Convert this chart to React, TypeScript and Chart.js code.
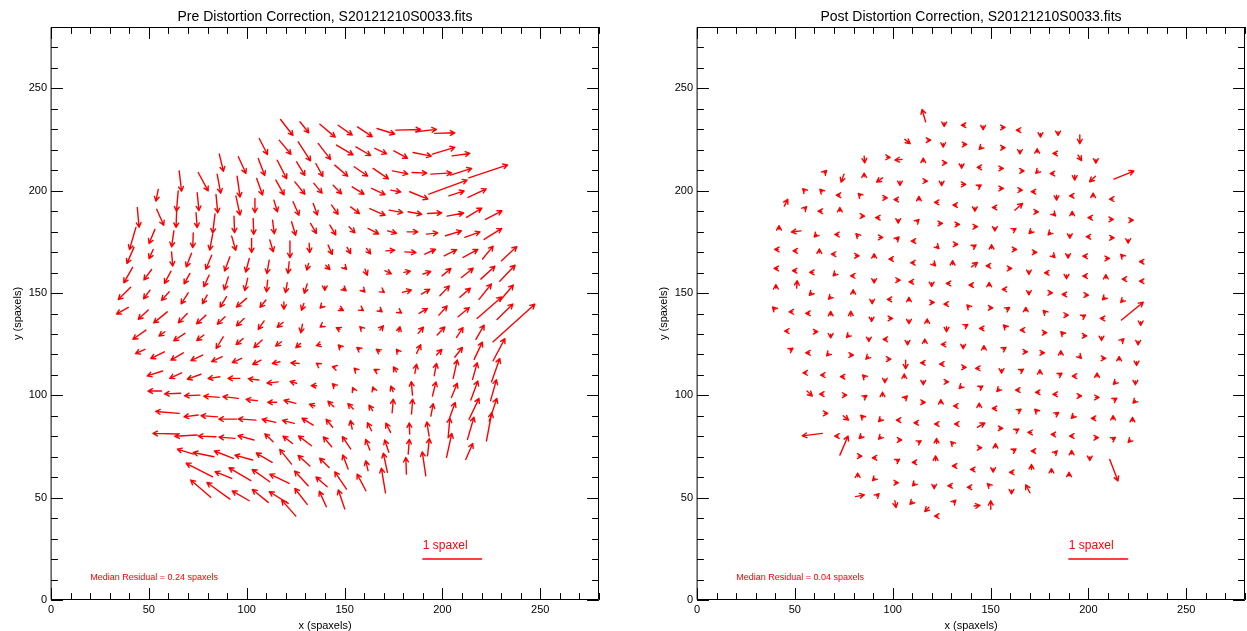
import React, { useEffect, useRef } from "react";
import { Chart, registerables } from "chart.js";

Chart.register(...registerables);

const FONT = "'Liberation Sans', Arial, Helvetica, sans-serif";
const RED = "#ff0000";

const AXIS_MIN = 0;
const AXIS_MAX = 280;
const MAJOR_STEP = 50;
const MINOR_STEP = 10;
const ARROW_SCALE = 30; // data units drawn per spaxel of residual
const SCALE_BAR_X = [190, 220];
const SCALE_BAR_Y = 20;
const SCALE_BAR_LABEL = "1 spaxel";
const RESIDUAL_POS = [20, 11];

const PRE_TITLE = "Pre Distortion Correction, S20121210S0033.fits";
const POST_TITLE = "Post Distortion Correction, S20121210S0033.fits";
const PRE_RESIDUAL = "Median Residual = 0.24 spaxels";
const POST_RESIDUAL = "Median Residual = 0.04 spaxels";
const X_LABEL = "x (spaxels)";
const Y_LABEL = "y (spaxels)";

type Arrow = [number, number, number, number]; // x, y, dx (spaxel), dy (spaxel)

const PRE_ARROWS: Arrow[] = [
  [117.3,234.8,0.21,-0.26],[127.2,233.7,0.15,-0.18],[137.4,232.5,0.26,-0.21],[146.7,232.0,0.24,-0.16],[156.6,231.2,0.25,-0.16],[166.6,230.4,0.30,-0.09],[176.2,229.6,0.42,0.01],[186.4,228.8,0.35,0.04],[196.1,228.0,0.34,0.01],
  [106.4,225.5,0.14,-0.26],[116.6,224.7,0.20,-0.23],[126.3,223.9,0.21,-0.31],[136.5,223.1,0.21,-0.26],[145.9,222.3,0.28,-0.16],[155.8,221.4,0.25,-0.14],[165.5,220.7,0.20,-0.09],[175.2,219.5,0.23,-0.12],[185.0,218.7,0.31,-0.06],[194.9,217.9,0.38,0.11],[205.0,217.0,0.30,0.04],
  [86.0,217.9,0.07,-0.28],[95.7,216.6,0.13,-0.27],[105.9,215.8,0.11,-0.28],[115.6,214.9,0.16,-0.30],[125.5,214.1,0.14,-0.22],[135.3,213.3,0.12,-0.21],[145.0,212.5,0.22,-0.18],[154.9,211.7,0.23,-0.15],[164.6,210.9,0.26,-0.17],[174.5,209.7,0.26,-0.05],[184.5,208.9,0.25,-0.01],[194.1,208.1,0.35,0.02],[204.1,207.6,0.36,0.11],[213.5,206.3,0.66,0.21],
  [65.5,209.7,0.04,-0.33],[75.2,208.9,0.17,-0.30],[84.9,208.1,0.06,-0.31],[95.1,207.1,0.05,-0.34],[105.1,206.0,0.10,-0.27],[114.9,205.2,0.14,-0.24],[124.6,204.3,0.17,-0.20],[134.3,203.6,0.14,-0.16],[144.2,202.7,0.14,-0.14],[153.9,201.9,0.20,-0.12],[163.8,201.1,0.23,-0.10],[173.6,200.3,0.17,-0.03],[183.3,199.5,0.31,-0.12],[193.1,198.3,0.65,0.23],[203.3,197.5,0.26,0.08],[213.1,196.7,0.31,0.14],
  [54.8,200.6,-0.04,-0.19],[65.0,199.9,-0.03,-0.33],[74.7,199.0,0.03,-0.29],[84.3,198.2,0.03,-0.30],[94.5,197.4,0.07,-0.31],[104.2,196.2,0.0,-0.23],[113.9,195.4,0.06,-0.19],[123.7,194.6,0.10,-0.22],[134.0,193.8,0.07,-0.19],[143.4,193.0,0.11,-0.15],[153.1,192.1,0.15,-0.11],[162.9,191.3,0.26,-0.11],[172.8,190.5,0.23,-0.04],[182.5,189.7,0.23,-0.04],[192.4,188.9,0.24,0.01],[202.4,187.6,0.28,0.05],[212.3,187.0,0.26,0.15],[222.0,186.0,0.28,0.14],
  [44.1,191.8,0.03,-0.32],[54.0,190.9,0.12,-0.26],[64.2,190.2,-0.01,-0.27],[74.1,189.2,0.02,-0.24],[83.8,188.6,-0.04,-0.31],[93.5,187.6,0.01,-0.27],[103.3,186.5,0.01,-0.26],[113.2,185.6,0.03,-0.22],[122.9,184.8,0.07,-0.22],[132.6,184.0,0.10,-0.16],[142.5,183.2,0.10,-0.16],[152.3,182.4,0.10,-0.10],[162.0,181.6,0.18,-0.09],[172.0,180.4,0.15,-0.04],[182.0,179.9,0.18,0.0],[191.9,178.8,0.19,0.02],[201.6,178.0,0.27,0.08],[211.4,177.2,0.26,0.09],[221.3,176.2,0.30,0.18],
  [43.4,182.1,-0.11,-0.36],[53.1,181.1,-0.10,-0.23],[62.8,180.4,-0.04,-0.26],[72.7,179.4,-0.01,-0.24],[82.6,178.8,-0.05,-0.26],[92.3,177.8,0.07,-0.23],[102.5,176.7,0.0,-0.23],[111.8,175.9,0.06,-0.19],[122.1,175.4,0.0,-0.27],[131.9,174.3,0.01,-0.15],[141.6,173.4,0.07,-0.15],[151.3,172.3,0.06,-0.10],[161.2,171.8,0.07,-0.09],[171.1,170.6,0.15,0.01],[180.8,170.1,0.19,-0.01],[191.0,169.0,0.18,0.08],[200.9,168.2,0.21,0.10],[210.6,167.4,0.25,0.13],[220.5,166.6,0.18,0.21],[230.2,165.8,0.26,0.23],
  [42.4,172.3,-0.12,-0.26],[52.2,171.3,-0.07,-0.15],[61.6,170.1,0.02,-0.23],[71.8,169.4,-0.09,-0.22],[82.1,168.5,-0.10,-0.23],[91.4,167.7,-0.09,-0.23],[101.3,166.9,-0.06,-0.22],[111.5,166.1,-0.04,-0.22],[121.7,165.3,-0.02,-0.19],[131.6,164.5,-0.03,-0.11],[140.4,163.6,0.07,-0.07],[150.1,162.5,0.03,-0.03],[160.4,161.7,0.04,-0.10],[170.6,160.9,0.11,-0.05],[180.3,160.1,0.11,0.02],[190.1,159.3,0.13,0.04],[199.8,158.4,0.15,0.12],[209.7,157.6,0.20,0.15],[219.6,156.8,0.24,0.21],[229.3,155.8,0.26,0.26],
  [41.7,162.5,-0.15,-0.25],[51.4,161.5,-0.13,-0.17],[61.3,160.7,-0.11,-0.20],[71.0,159.6,-0.10,-0.17],[80.8,158.8,-0.09,-0.19],[90.6,157.9,-0.07,-0.21],[100.5,157.2,-0.05,-0.20],[110.7,156.3,-0.02,-0.19],[120.7,155.0,-0.03,-0.16],[130.9,154.4,-0.05,-0.15],[139.9,153.4,0.0,-0.07],[149.3,152.3,0.05,-0.04],[159.5,151.4,0.03,-0.03],[169.4,150.9,0.03,-0.02],[179.6,150.3,0.15,0.04],[189.3,149.5,0.14,0.08],[198.7,148.7,0.16,0.16],[208.9,147.9,0.18,0.15],[218.7,146.9,0.21,0.25],[229.3,146.1,0.23,0.26],
  [40.7,152.8,-0.21,-0.20],[50.6,151.4,-0.11,-0.14],[60.4,150.6,-0.13,-0.14],[70.1,150.1,-0.12,-0.18],[79.8,149.0,-0.08,-0.14],[89.7,148.2,-0.11,-0.17],[99.9,147.4,-0.17,-0.14],[109.8,146.6,-0.10,-0.12],[119.0,145.7,0.0,-0.12],[129.2,144.9,-0.04,-0.11],[138.4,143.6,-0.03,-0.03],[147.6,142.4,0.06,-0.03],[158.7,142.0,0.03,-0.02],[168.0,141.7,0.04,-0.03],[178.2,140.8,0.03,-0.02],[188.1,140.1,0.14,0.08],[198.2,139.2,0.14,0.15],[208.0,138.4,0.19,0.15],[217.7,137.6,0.42,0.35],[227.9,137.1,0.27,0.25],
  [39.5,143.0,-0.20,-0.11],[49.7,141.7,-0.17,-0.15],[59.4,140.8,-0.23,-0.18],[69.6,140.0,-0.15,-0.15],[79.2,139.2,-0.16,-0.14],[88.9,138.4,-0.13,-0.12],[98.7,137.6,-0.13,-0.12],[108.9,136.4,-0.10,-0.14],[118.6,135.7,-0.10,-0.08],[128.5,134.8,-0.03,-0.14],[138.4,134.0,-0.03,-0.02],[147.6,132.2,-0.06,0.03],[158.7,132.7,-0.03,0.03],[168.0,131.9,0.06,0.07],[177.7,131.1,0.02,0.08],[187.6,130.3,0.09,0.10],[197.3,129.5,0.13,0.13],[207.2,128.3,0.11,0.16],[217.1,127.4,0.14,0.23],[225.9,126.2,0.71,0.61],
  [48.5,131.9,-0.22,-0.15],[58.2,131.1,-0.10,-0.07],[68.4,130.3,-0.19,-0.12],[78.1,129.5,-0.12,-0.09],[88.0,128.6,-0.12,-0.19],[98.2,127.8,-0.12,-0.10],[107.9,127.0,-0.14,-0.12],[117.8,126.2,-0.10,-0.07],[127.5,125.4,-0.08,-0.07],[137.7,124.9,-0.07,-0.02],[148.0,123.4,-0.04,0.04],[157.5,122.5,-0.04,0.03],[168.0,121.3,-0.06,0.04],[177.4,121.3,-0.03,0.04],[186.8,120.5,0.07,0.14],[197.0,119.7,0.09,0.09],[206.3,118.6,0.13,0.16],[216.2,117.6,0.14,0.28],[225.9,116.9,0.20,0.36],
  [48.0,122.5,-0.16,-0.07],[57.9,121.3,-0.23,-0.11],[67.6,120.8,-0.21,-0.12],[77.5,119.7,-0.20,-0.09],[87.5,118.9,-0.18,-0.08],[97.4,118.1,-0.16,-0.07],[107.3,117.2,-0.14,-0.07],[117.0,116.4,-0.13,-0.03],[126.8,115.6,-0.14,0.01],[136.5,115.1,-0.03,0.02],[145.0,113.7,-0.04,0.01],[155.8,112.4,-0.03,0.03],[166.3,112.0,-0.04,0.02],[176.5,111.5,-0.05,0.08],[185.9,110.7,0.03,0.15],[195.8,109.6,0.04,0.20],[205.5,108.3,0.07,0.30],[215.4,107.8,0.08,0.27],[225.1,106.6,0.14,0.38],
  [57.0,111.9,-0.26,-0.08],[66.7,111.0,-0.20,-0.09],[76.6,110.3,-0.23,-0.08],[86.3,109.1,-0.20,-0.03],[96.5,108.3,-0.20,0.0],[106.2,107.5,-0.18,0.02],[116.1,106.6,-0.19,-0.02],[125.5,105.9,-0.11,0.03],[135.7,104.7,-0.09,0.0],[145.0,104.5,-0.04,0.04],[154.7,102.6,-0.02,0.04],[165.0,102.6,-0.02,0.05],[174.8,101.8,-0.04,0.09],[184.7,100.1,-0.02,0.22],[194.9,99.7,0.06,0.23],[204.6,99.0,0.10,0.23],[214.5,97.7,0.12,0.31],[224.6,97.4,0.10,0.34],
  [56.5,102.1,-0.23,0.0],[66.2,101.0,-0.27,-0.01],[76.1,100.1,-0.26,-0.01],[85.9,99.0,-0.26,0.02],[95.7,98.5,-0.26,0.03],[105.4,97.4,-0.19,0.02],[115.3,96.6,-0.15,0.0],[125.1,96.1,-0.20,0.05],[134.8,94.8,-0.09,0.03],[144.5,94.4,-0.10,0.09],[154.4,93.3,-0.09,0.09],[164.3,92.5,-0.06,0.09],[174.3,91.5,0.02,0.22],[184.2,90.9,0.02,0.24],[194.1,89.9,0.04,0.20],[203.8,89.3,0.09,0.24],[213.6,88.3,0.17,0.34],[223.9,87.4,0.13,0.37],
  [65.5,91.2,-0.40,0.03],[75.2,90.4,-0.24,-0.03],[85.1,89.5,-0.28,0.02],[94.8,88.4,-0.30,0.0],[104.7,87.9,-0.30,0.02],[114.8,86.8,-0.23,0.05],[124.3,86.3,-0.20,0.05],[134.0,85.5,-0.19,0.11],[143.9,84.4,-0.11,0.13],[153.9,83.5,-0.03,0.14],[163.8,82.7,-0.07,0.13],[173.5,81.9,-0.08,0.15],[183.3,81.1,-0.01,0.18],[193.2,80.1,-0.04,0.23],[202.9,79.3,0.03,0.32],[212.8,78.5,0.11,0.36],[222.5,77.7,0.09,0.46],
  [65.0,81.1,-0.43,0.01],[74.7,80.6,-0.38,-0.02],[84.3,79.8,-0.30,0.01],[94.0,79.0,-0.27,0.02],[103.7,78.2,-0.27,0.07],[113.5,77.3,-0.14,0.13],[123.4,76.5,-0.16,0.12],[133.1,75.4,-0.22,0.16],[143.4,74.9,-0.14,0.16],[153.1,73.8,-0.14,0.20],[162.9,73.3,-0.07,0.17],[172.6,72.2,-0.07,0.20],[182.5,71.3,0.02,0.24],[192.4,70.5,0.03,0.28],[202.1,69.7,0.09,0.39],[211.9,68.7,0.12,0.26],
  [72.7,71.3,-0.27,0.08],[83.2,70.0,-0.35,0.07],[93.1,69.2,-0.32,0.12],[103.0,68.4,-0.30,0.08],[113.0,67.3,-0.27,0.15],[122.9,66.4,-0.20,0.24],[132.3,65.5,-0.20,0.17],[142.1,64.8,-0.16,0.15],[151.8,64.0,-0.09,0.23],[162.0,63.2,-0.04,0.16],[171.9,62.4,-0.07,0.31],[181.6,61.5,-0.01,0.27],[191.5,60.7,-0.06,0.39],
  [82.6,60.2,-0.45,0.22],[92.3,59.4,-0.28,0.11],[102.1,58.3,-0.37,0.21],[111.8,57.8,-0.30,0.20],[121.7,57.0,-0.33,0.15],[131.4,55.8,-0.23,0.24],[141.1,55.3,-0.19,0.16],[151.0,54.2,-0.20,0.28],[160.9,53.4,-0.15,0.27],[170.9,52.4,-0.07,0.40],
  [81.6,50.2,-0.34,0.28],[91.4,49.3,-0.39,0.27],[101.3,48.5,-0.29,0.16],[111.0,47.7,-0.27,0.21],[121.2,47.2,-0.32,0.19],[130.9,46.7,-0.21,0.26],[140.7,45.6,-0.12,0.25],[150.1,44.5,-0.11,0.31],
  [125.1,41.0,-0.24,0.26],
];

const POST_ARROWS: Arrow[] = [
  [116.8,233.7,-0.06,0.20],[126.3,233.2,0,-0.06],[136.9,232.0,-0.06,0],[146.2,231.6,0,-0.06],[155.6,230.9,0.06,0],[165.0,229.6,-0.06,0],[175.5,228.0,0,-0.06],[184.5,228.8,0,-0.06],[195.6,227.2,0,-0.14],
  [106.2,225.1,0.09,-0.07],[117.6,224.7,0.06,0],[125.8,223.1,0,-0.06],[136.0,222.6,0.06,0],[145.4,221.4,-0.04,-0.04],[155.6,221.0,0.06,0],[165.0,219.8,0,-0.06],[173.8,218.7,0,0.06],[183.7,218.2,-0.06,0],[194.7,217.4,0.06,-0.09],[203.8,215.3,0,-0.06],
  [85.4,216.9,0.01,-0.11],[96.9,216.3,0.06,0],[104.8,215.3,-0.12,-0.01],[115.6,214.1,0,0.06],[125.8,213.6,0.06,0],[135.2,212.8,0,-0.06],[145.0,211.4,-0.06,0],[154.7,210.9,0.06,0],[165.3,209.7,0.06,0],[174.3,209.7,-0.04,-0.04],[182.3,208.4,-0.06,0],[193.0,207.6,0,-0.08],[203.6,207.1,-0.10,-0.09],[213.0,205.7,0.34,0.13],
  [65.0,208.7,0.04,0.04],[75.1,208.1,-0.05,-0.13],[85.4,206.8,0,0.06],[94.8,206.3,-0.10,-0.07],[103.7,204.7,0,-0.07],[115.9,204.7,0.06,0],[125.0,204.3,0,-0.06],[135.2,203.1,0.07,0],[143.7,201.9,0.05,0.03],[154.7,201.1,0.06,0],[164.4,200.3,0.06,0],[172.6,199.5,-0.06,0],[183.7,197.8,0,-0.08],[192.2,197.5,-0.06,0],[202.4,197.0,0,0.06],[212.6,195.9,-0.06,0],
  [55.2,199.8,-0.04,0.04],[64.0,199.5,-0.04,0.04],[73.0,197.8,-0.06,0],[83.6,197.5,-0.04,0.04],[95.1,196.5,0.07,0],[102.5,195.7,-0.06,0],[113.4,195.4,0,0.06],[123.2,194.3,-0.06,0],[132.6,193.0,-0.06,0],[142.0,191.8,0,-0.06],[152.7,191.8,-0.06,0],[162.4,190.5,0.13,0.11],[172.6,189.7,0.06,0],[182.0,188.9,0.04,-0.04],[191.7,188.1,0,0.06],[201.6,186.8,-0.06,0],[210.9,186.0,0.06,0],[221.1,185.6,0.06,0],
  [44.6,192.5,0.06,0.11],[54.8,191.0,0.04,0.04],[63.7,190.0,-0.06,0],[73.0,190.0,0,0.06],[83.8,187.6,0.06,0],[93.1,186.8,-0.06,0],[102.8,186.0,0,-0.06],[112.2,184.8,0.04,0.04],[123.6,184.0,0.06,0],[132.3,183.5,0.06,0],[141.5,182.4,0.06,0],[152.2,182.1,0,-0.06],[161.5,180.7,0.05,0.03],[170.9,180.3,-0.04,-0.04],[180.6,179.6,-0.04,-0.04],[190.5,178.6,0,-0.06],[200.7,177.5,-0.06,0],[211.3,177.0,0.06,0],[220.3,176.2,0,-0.06],
  [41.9,181.1,0,0.06],[53.1,180.4,-0.16,-0.02],[61.1,178.6,-0.04,-0.04],[72.2,178.6,-0.06,0],[82.4,177.8,-0.04,0.04],[93.1,177.2,0.06,0],[102.0,176.2,0.04,0.04],[111.3,175.4,-0.06,0],[122.4,172.9,0.04,-0.04],[131.4,173.8,0.06,0],[141.1,172.6,0.05,0.03],[150.5,171.8,0,0.06],[161.5,171.3,0.06,0],[171.8,169.9,0.06,0],[181.7,168.5,0.04,-0.04],[189.6,168.9,0,-0.06],[199.0,168.0,-0.06,0],[208.9,166.9,0.06,0],[217.7,167.7,-0.04,0.04],[227.9,165.3,-0.06,0],
  [41.5,171.3,-0.06,0],[50.9,170.6,-0.06,0],[62.5,169.7,0,0.06],[70.5,169.0,-0.06,0],[81.0,168.2,0.06,0],[90.5,167.4,0,0.06],[99.9,166.6,-0.06,0],[111.0,164.8,-0.06,0],[120.7,164.5,0.04,-0.04],[130.6,164.0,0,0.06],[140.3,162.8,0.10,0.07],[149.6,163.3,-0.06,0],[159.0,162.0,0.06,0],[169.6,160.9,0,-0.06],[179.4,159.9,-0.06,0],[188.8,158.8,0,-0.06],[199.0,158.3,-0.06,0],[208.9,157.2,0,0.06],[219.1,156.8,-0.06,0],[227.9,155.8,-0.06,0],
  [41.2,162.0,-0.06,0],[50.6,160.9,-0.06,0],[59.4,160.1,-0.06,0],[70.8,159.6,-0.04,-0.04],[80.3,158.4,-0.06,0],[90.5,156.7,0,-0.06],[102.0,156.3,0.06,0],[110.2,155.5,-0.06,0],[119.9,155.0,0,-0.06],[129.2,154.7,-0.06,0],[140.8,153.9,-0.06,0],[149.3,153.4,0,0.06],[157.8,151.8,-0.06,0],[169.6,150.9,0,-0.06],[179.8,150.1,0.06,0],[188.4,149.3,-0.06,0],[198.2,149.0,0.06,0],[208.4,147.9,-0.04,-0.04],[217.7,146.6,-0.04,-0.04],
  [40.3,152.3,0,0.06],[50.9,152.4,0.01,0.12],[58.6,150.1,-0.04,-0.04],[68.4,148.2,-0.04,-0.04],[79.8,149.8,0,0.06],[89.5,146.6,0,-0.06],[99.1,146.9,-0.06,0],[108.3,146.1,0,0.06],[119.4,145.4,0.06,0],[128.0,144.6,-0.06,0],[139.1,143.0,-0.04,0.04],[149.3,142.8,0.06,0],[158.2,142.0,0.05,0.03],[168.0,141.2,0,0.06],[178.1,140.3,-0.04,0.04],[187.9,139.2,0.06,0],[197.0,138.4,0.05,0.03],[207.9,137.6,-0.06,0],[216.9,136.8,0.37,0.29],[226.7,136.0,0,-0.06],
  [39.8,142.0,-0.04,0.04],[48.9,140.8,-0.06,0],[57.4,140.1,-0.06,0],[68.3,139.2,0,0.06],[78.6,138.7,0,0.08],[89.2,137.9,0,-0.06],[98.1,137.6,0.06,0],[108.3,136.8,0,-0.06],[117.6,135.5,0,0.06],[127.5,133.5,0,-0.08],[136.9,133.8,0.05,0.03],[146.2,132.7,-0.06,0],[157.8,133.2,-0.04,0.04],[167.0,131.9,-0.06,0],[176.9,130.6,0.06,0],[187.1,129.9,-0.04,0.04],[197.3,129.1,0.06,0],[206.7,128.6,0,-0.06],[216.9,126.5,0.04,0.04],[225.4,126.5,0,-0.06],
  [46.6,131.4,-0.06,0],[59.9,131.1,0.06,0],[68.3,129.9,0,-0.06],[77.6,129.5,-0.04,-0.04],[87.8,128.1,0,-0.06],[96.9,127.4,-0.06,0],[107.6,126.5,0,-0.06],[116.4,125.7,0,0.06],[126.7,124.9,-0.06,0],[136.0,124.6,0,-0.06],[146.6,122.5,0,0.06],[156.4,122.5,0.05,0.03],[167.0,121.3,0.06,0],[175.7,120.8,0.06,0],[185.9,120.0,0,0.06],[195.2,119.3,0.04,-0.04],[207.0,118.1,0.06,0],[215.7,117.2,0,0.06],[224.6,116.4,0,-0.06],
  [47.5,122.1,0.05,0.03],[57.4,120.8,-0.06,0],[67.4,120.5,-0.04,-0.04],[78.1,119.7,0.06,0],[87.5,118.9,-0.04,-0.04],[97.2,117.7,0.06,0],[106.6,117.2,0,-0.14],[116.1,115.9,-0.06,0],[125.8,115.3,-0.06,0],[135.7,113.7,0.06,0],[144.2,113.2,-0.06,0],[155.6,112.7,0,-0.06],[165.3,111.9,0.05,0.03],[175.2,110.7,0,0.06],[185.0,109.9,0.05,0.03],[193.6,109.4,-0.06,0],[204.4,109.1,0,0.06],[214.0,106.6,-0.04,-0.04],[224.0,107.0,0,-0.06],
  [56.0,111.0,-0.06,0],[65.0,109.9,-0.06,0],[75.1,109.1,-0.06,0],[85.8,108.8,-0.04,0.04],[96.0,108.0,0,-0.06],[105.9,108.6,0,0.06],[115.6,107.0,0,-0.06],[126.7,106.6,0.06,0],[135.2,104.5,-0.04,-0.04],[144.5,103.7,0.05,0.03],[154.4,103.1,-0.04,-0.04],[164.6,102.6,-0.06,0],[174.8,101.5,-0.06,0],[183.7,100.5,-0.06,0],[194.7,99.7,0.06,0],[203.6,99.0,0.06,0],[213.0,97.7,0.05,0.03],[224.0,97.4,-0.04,-0.04],
  [56.2,102.1,0.09,-0.08],[64.5,100.6,-0.06,0],[74.7,100.1,0.06,0],[85.3,99.0,0.05,0.03],[94.8,99.7,0,0.06],[106.2,98.5,0.04,0.04],[114.8,96.6,0.06,0],[124.6,96.1,0,0.06],[132.9,94.8,-0.06,0],[144.2,94.4,0,0.06],[152.7,93.6,-0.06,0],[164.1,92.3,0.05,0.03],[173.8,92.0,-0.04,0.04],[183.3,90.7,0.05,0.03],[192.5,90.0,-0.04,-0.04],[203.3,88.8,-0.06,0],[212.6,88.3,0,0.06],[222.5,87.4,0,0.06],
  [65.0,91.2,0.06,0],[74.7,90.0,0.09,-0.07],[84.9,89.1,-0.04,0.04],[94.0,88.4,-0.04,-0.04],[103.7,87.9,-0.06,0],[112.7,86.6,-0.06,0],[123.2,86.0,-0.06,0],[133.4,86.0,-0.06,0],[143.2,84.4,0.13,0.07],[154.4,83.9,0.06,0],[162.9,82.7,0.05,0.03],[170.9,81.9,-0.06,0],[182.8,80.9,-0.06,0],[192.2,80.1,-0.06,0],[203.3,79.3,0.06,0],[212.3,78.5,0.05,0.03],[221.5,78.2,-0.04,-0.04],
  [64.0,81.4,-0.34,-0.04],[72.2,80.1,-0.06,0],[84.1,80.1,-0.04,-0.04],[94.0,79.8,-0.04,-0.04],[102.8,78.2,0.06,0],[113.0,77.0,0.05,0.03],[122.4,76.5,0,0.08],[130.9,76.2,-0.04,0.04],[143.7,74.4,0.06,0],[152.5,74.6,0,0.06],[161.5,72.9,0.05,0.03],[172.6,72.8,-0.06,0],[182.8,71.7,0.04,0.04],[191.4,71.3,0,0.06],[200.7,70.0,0,-0.06],[210.9,68.7,0.14,-0.35],
  [73.0,70.8,0.14,0.31],[82.4,70.3,0.06,0],[91.4,69.5,-0.06,0],[102.0,67.9,0.05,0.03],[111.8,67.3,-0.06,0],[121.9,68.0,0,0.08],[132.3,65.5,-0.06,0],[141.6,63.8,-0.06,0],[151.3,64.3,0,-0.06],[161.5,62.4,-0.06,0],[170.9,63.8,0,0.08],[181.1,62.4,0,0.06],[190.1,60.6,0,0.06],
  [82.1,60.2,0,0.06],[90.9,59.5,-0.04,-0.04],[101.1,57.3,0.06,0],[111.3,57.0,-0.04,-0.04],[121.2,56.2,0,-0.06],[130.0,55.8,-0.06,0],[139.9,55.1,-0.06,0],[149.6,55.7,-0.04,0.04],[160.7,53.7,0,-0.06],[170.1,52.4,-0.07,0.13],
  [81.0,50.5,0.15,0.03],[91.8,50.8,0.04,0.04],[101.1,48.5,0.02,-0.11],[110.0,48.0,-0.04,-0.04],[118.5,45.3,-0.07,-0.07],[131.0,47.6,0.04,0.04],[141.6,45.9,0.10,0.01],[150.1,44.3,0,0.14],
  [123.2,41.0,-0.06,0],
];

type PanelProps = {
  left: number;
  width: number;
  padLeft: number;
  padRight: number;
  arrows: Arrow[];
  title: string;
  residual: string;
};

function Panel({ left, width, padLeft, padRight, arrows, title, residual }: PanelProps) {
  const ref = useRef<HTMLCanvasElement | null>(null);

  useEffect(() => {
    if (!ref.current) return;

    const framePlugin = {
      id: "frameAndQuiver",
      afterDatasetsDraw(chart: any) {
        const { ctx, chartArea: ca, scales } = chart;
        const xs = scales.x;
        const ys = scales.y;
        ctx.save();

        // arrows
        ctx.strokeStyle = RED;
        ctx.lineWidth = 1.4;
        ctx.lineCap = "round";
        ctx.lineJoin = "round";
        for (const [ax, ay, u, v] of arrows) {
          const x0 = xs.getPixelForValue(ax);
          const y0 = ys.getPixelForValue(ay);
          const x1 = xs.getPixelForValue(ax + u * ARROW_SCALE);
          const y1 = ys.getPixelForValue(ay + v * ARROW_SCALE);
          const ang = Math.atan2(y1 - y0, x1 - x0);
          const h = 5;
          const sp = 0.5;
          ctx.beginPath();
          ctx.moveTo(x0, y0);
          ctx.lineTo(x1, y1);
          ctx.moveTo(x1 - h * Math.cos(ang - sp), y1 - h * Math.sin(ang - sp));
          ctx.lineTo(x1, y1);
          ctx.lineTo(x1 - h * Math.cos(ang + sp), y1 - h * Math.sin(ang + sp));
          ctx.stroke();
        }

        // scale bar
        ctx.lineWidth = 1.5;
        ctx.beginPath();
        ctx.moveTo(xs.getPixelForValue(SCALE_BAR_X[0]), ys.getPixelForValue(SCALE_BAR_Y));
        ctx.lineTo(xs.getPixelForValue(SCALE_BAR_X[1]), ys.getPixelForValue(SCALE_BAR_Y));
        ctx.stroke();
        ctx.fillStyle = RED;
        ctx.font = `12px ${FONT}`;
        ctx.textAlign = "left";
        ctx.textBaseline = "alphabetic";
        ctx.fillText(SCALE_BAR_LABEL, xs.getPixelForValue(SCALE_BAR_X[0]), ys.getPixelForValue(SCALE_BAR_Y) - 10);
        ctx.font = `9px ${FONT}`;
        ctx.textBaseline = "middle";
        ctx.fillText(residual, xs.getPixelForValue(RESIDUAL_POS[0]), ys.getPixelForValue(RESIDUAL_POS[1]));

        // frame
        ctx.strokeStyle = "#000";
        ctx.lineWidth = 1;
        const L = Math.round(ca.left) + 0.5;
        const R = Math.round(ca.right) - 0.5;
        const T = Math.round(ca.top) + 0.5;
        const B = Math.round(ca.bottom) - 0.5;
        ctx.strokeRect(L, T, R - L, B - T);
        ctx.beginPath();
        for (let val = AXIS_MIN; val <= AXIS_MAX; val += MINOR_STEP) {
          const len = val % MAJOR_STEP === 0 ? 11 : 6;
          const px = Math.round(xs.getPixelForValue(val)) + 0.5;
          const py = Math.round(ys.getPixelForValue(val)) + 0.5;
          ctx.moveTo(px, B); ctx.lineTo(px, B - len);
          ctx.moveTo(px, T); ctx.lineTo(px, T + len);
          ctx.moveTo(L, py); ctx.lineTo(L + len, py);
          ctx.moveTo(R, py); ctx.lineTo(R - len, py);
        }
        ctx.stroke();

        // titles
        ctx.fillStyle = "#000";
        ctx.textAlign = "center";
        ctx.textBaseline = "alphabetic";
        ctx.font = `14px ${FONT}`;
        ctx.fillText(title, (ca.left + ca.right) / 2, 21);
        ctx.font = `11px ${FONT}`;
        ctx.fillText(X_LABEL, (ca.left + ca.right) / 2, 629);
        ctx.translate(ca.left - 33, (ca.top + ca.bottom) / 2);
        ctx.rotate(-Math.PI / 2);
        ctx.textBaseline = "middle";
        ctx.fillText(Y_LABEL, 0, 0);
        ctx.restore();
      },
    };

    const axisCommon = (isX: boolean) => ({
      type: "linear",
      min: AXIS_MIN,
      max: AXIS_MAX,
      grid: { display: false, drawTicks: false },
      border: { display: false },
      ticks: {
        stepSize: MAJOR_STEP,
        includeBounds: false,
        autoSkip: false,
        maxRotation: 0,
        padding: isX ? 3 : 4,
        color: "#000",
        font: { family: FONT, size: 11 },
      },
      afterBuildTicks: (s: any) => {
        s.ticks = s.ticks.filter((t: any) => t.value % MAJOR_STEP === 0);
      },
      afterFit: (s: any) => {
        if (isX) s.height = 20;
        else s.width = 40;
      },
    });

    const chart = new Chart(ref.current, {
      type: "scatter",
      data: {
        datasets: [
          {
            data: arrows.map((a) => ({ x: a[0], y: a[1] })),
            pointRadius: 0,
            pointHoverRadius: 0,
            showLine: false,
          },
        ],
      },
      options: {
        animation: false,
        responsive: false,
        events: [],
        layout: { padding: { left: padLeft, right: padRight, top: 27, bottom: 11 } },
        plugins: {
          legend: { display: false },
          tooltip: { enabled: false },
          title: { display: false },
        },
        scales: {
          x: axisCommon(true) as any,
          y: axisCommon(false) as any,
        },
      },
      plugins: [framePlugin],
    } as any);

    return () => chart.destroy();
  }, []);

  return (
    <canvas
      ref={ref}
      width={width}
      height={631}
      style={{ position: "absolute", left, top: 0, width, height: 631 }}
    />
  );
}

export default function App() {
  return (
    <div style={{ position: "absolute", left: 0, top: 0, width: 1247, height: 631, background: "#fff", overflow: "hidden" }}>
      <Panel left={0} width={623} padLeft={11} padRight={24} arrows={PRE_ARROWS} title={PRE_TITLE} residual={PRE_RESIDUAL} />
      <Panel left={623} width={624} padLeft={34} padRight={2} arrows={POST_ARROWS} title={POST_TITLE} residual={POST_RESIDUAL} />
    </div>
  );
}
